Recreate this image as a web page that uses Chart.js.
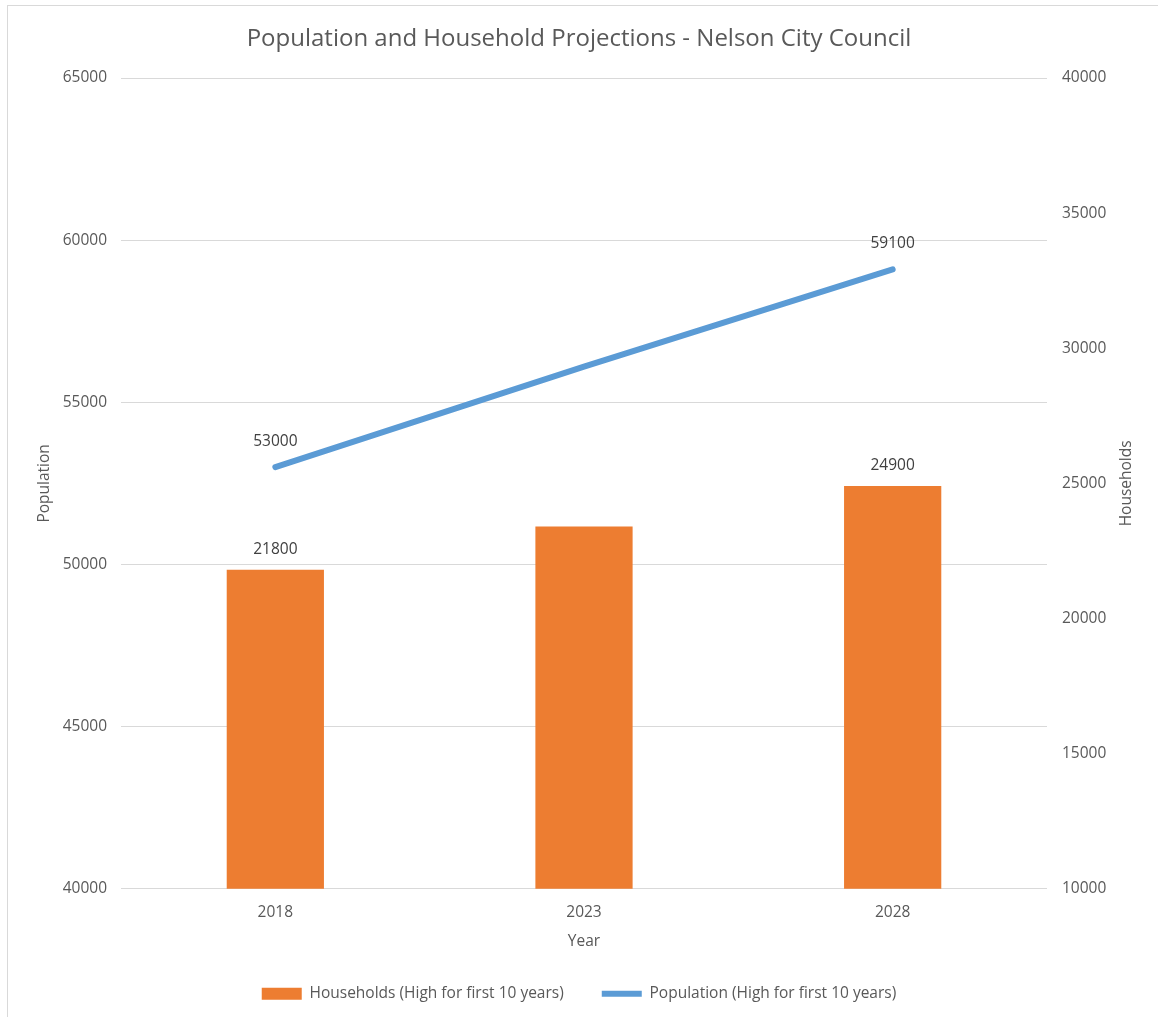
<!DOCTYPE html>
<html>
<head>
<meta charset="utf-8">
<script src="https://cdn.jsdelivr.net/npm/chart.js@4"></script>
<style>
    body { margin: 0; background: #fff; overflow: hidden; }
    #vora { position: absolute; left: 7px; top: 5px; width: 1200px; height: 1100px; border: 1px solid #d9d9d9; }
    canvas { position: absolute; left: 0; top: 0; }
</style>
</head>
<body>
<div id="vora"></div>
<canvas id="grafica" width="1158" height="1017"></canvas>
<script>
// Dades llegides del gràfic
const anys = ['2018', '2023', '2028'];
const llars = [21800, 23400, 24900];
const poblacio = [53000, 56100, 59100];
const punts_amb_etiqueta = [0, 2]; // només 2018 i 2028 porten valor

const gris = '#595959';
const font = "'Open Sans', sans-serif";
const mida = 15.5;

// Etiquetes de dades damunt de barres i línia
const etiquetes = {
    id: 'etiquetes',
    afterDatasetsDraw(chart) {
        const ctx = chart.ctx;
        ctx.save();
        ctx.font = mida + 'px ' + font;
        ctx.fillStyle = '#404040';
        ctx.textAlign = 'center';
        ctx.textBaseline = 'middle';
        chart.data.datasets.forEach((ds, i) => {
            const meta = chart.getDatasetMeta(i);
            const amunt = ds.type === 'line' ? 26 : 20;
            punts_amb_etiqueta.forEach(j => {
                const el = meta.data[j];
                ctx.fillText(String(ds.data[j]), el.x, el.y - amunt);
            });
        });
        ctx.restore();
    }
};

// Títol de l'eix dret, girat com el de l'esquerre (de baix a dalt)
const titolDret = {
    id: 'titolDret',
    afterDraw(chart) {
        const ctx = chart.ctx;
        const area = chart.chartArea;
        ctx.save();
        ctx.translate(1127, (area.top + area.bottom) / 2);
        ctx.rotate(-Math.PI / 2);
        ctx.font = mida + 'px ' + font;
        ctx.fillStyle = gris;
        ctx.textAlign = 'center';
        ctx.textBaseline = 'middle';
        ctx.fillText('Households', 0, 0);
        ctx.restore();
    }
};

const ctx = document.getElementById('grafica').getContext('2d');
new Chart(ctx, {
    data: {
        labels: anys,
        datasets: [{
            type: 'bar',
            label: 'Households (High for first 10 years)',
            data: llars,
            yAxisID: 'yLlars',
            backgroundColor: '#ed7d31',
            categoryPercentage: 1,
            barPercentage: 0.315
        }, {
            type: 'line',
            label: 'Population (High for first 10 years)',
            data: poblacio,
            yAxisID: 'yPob',
            borderColor: '#5b9bd5',
            backgroundColor: '#5b9bd5',
            borderWidth: 6,
            borderCapStyle: 'round',
            pointRadius: 0,
            tension: 0
        }]
    },
    options: {
        responsive: false,
        animation: false,
        layout: { padding: { left: 0, right: 0, top: 0, bottom: 5.5 } },
        plugins: {
            title: {
                display: true,
                text: 'Population and Household Projections - Nelson City Council',
                color: gris,
                font: { family: font, size: 24, weight: 'normal' },
                padding: { top: 25, bottom: 24.2 }
            },
            legend: {
                position: 'bottom',
                labels: {
                    color: gris,
                    font: { family: font, size: mida },
                    usePointStyle: true,
                    pointStyleWidth: 40,
                    boxHeight: 12,
                    padding: 38,
                    generateLabels(chart) {
                        const items = Chart.defaults.plugins.legend.labels.generateLabels(chart);
                        items.forEach(it => {
                            it.pointStyle = it.datasetIndex === 0 ? 'rect' : 'line';
                        });
                        return items;
                    }
                }
            },
            tooltip: { enabled: false }
        },
        scales: {
            x: {
                grid: { display: false, drawTicks: false },
                border: { display: false },
                ticks: { color: gris, font: { family: font, size: mida }, padding: 14.7 },
                title: {
                    display: true, text: 'Year', color: gris,
                    font: { family: font, size: mida }, padding: { top: 0, bottom: -3 }
                },
                afterFit(scale) { scale.height = 59.25; }
            },
            yPob: {
                position: 'left',
                min: 40000, max: 65000,
                ticks: { stepSize: 5000, color: gris, font: { family: font, size: mida }, padding: 14, callback: v => v },
                grid: { color: '#d9d9d9', drawTicks: false },
                border: { display: false },
                title: {
                    display: true, text: 'Population', color: gris,
                    font: { family: font, size: mida }, padding: { top: 35.7, bottom: 0 }
                },
                afterFit(scale) { scale.width = 121; }
            },
            yLlars: {
                position: 'right',
                min: 10000, max: 40000,
                ticks: { stepSize: 5000, color: gris, font: { family: font, size: mida }, padding: 15, callback: v => v },
                grid: { display: false, drawTicks: false },
                border: { display: false },
                afterFit(scale) { scale.width = 111; }
            }
        }
    },
    plugins: [etiquetes, titolDret]
});
</script>
</body>
</html>
